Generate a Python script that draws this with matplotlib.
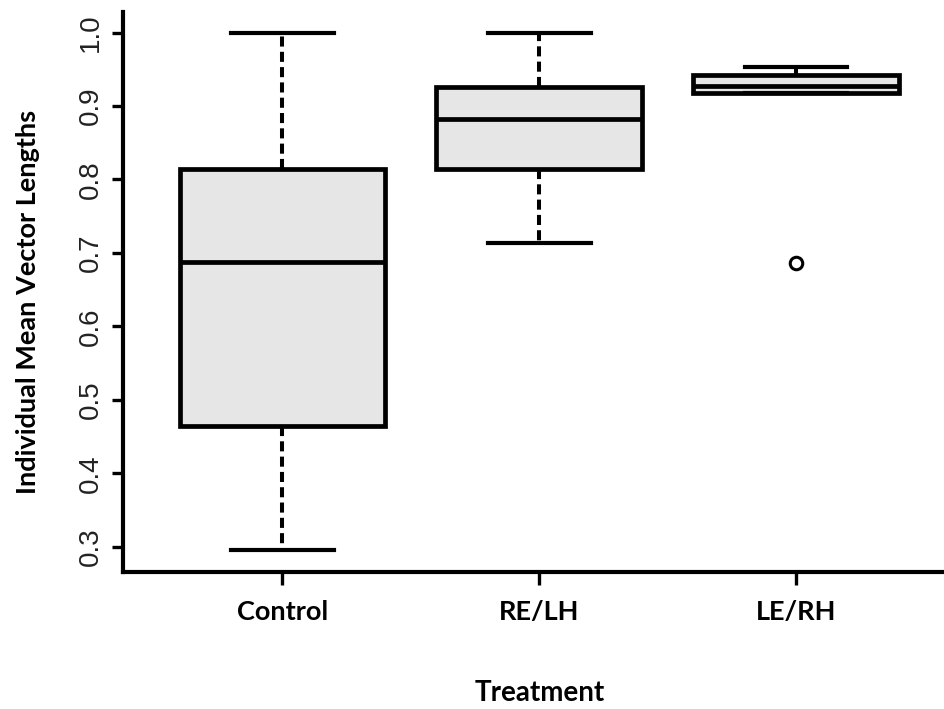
import matplotlib
matplotlib.use("Agg")
import matplotlib.pyplot as plt

# Box statistics
groups   = ["Control", "RE/LH", "LE/RH"]
whislo   = [0.295, 0.714, 0.918]
q1       = [0.465, 0.814, 0.918]
medians  = [0.688, 0.882, 0.927]
q3       = [0.814, 0.926, 0.942]
whishi   = [1.000, 1.000, 0.953]
outliers = [[], [], [0.686]]

yticks = [0.3, 0.4, 0.5, 0.6, 0.7, 0.8, 0.9, 1.0]

stats = []
for i, g in enumerate(groups):
    stats.append({"label": g, "whislo": whislo[i], "q1": q1[i], "med": medians[i],
                  "q3": q3[i], "whishi": whishi[i], "fliers": outliers[i]})

fig = plt.figure(figsize=(9.45, 7.09), dpi=100)
ax = fig.add_axes([0.1302, 0.1932, 0.8698, 0.7899])

ax.bxp(stats, positions=[1, 2, 3], widths=0.8, patch_artist=True,
       boxprops=dict(facecolor="#e6e6e6", edgecolor="black", linewidth=3.4),
       medianprops=dict(color="black", linewidth=3.4),
       whiskerprops=dict(color="black", linewidth=2.9, linestyle=(0, (2.5, 1.3))),
       capprops=dict(color="black", linewidth=3.0),
       flierprops=dict(marker="o", markersize=9, markerfacecolor="white",
                       markeredgecolor="black", markeredgewidth=2.2),
       capwidths=0.4)

ax.set_xlim(0.38, 3.58)
ax.set_ylim(0.2656, 1.028)

for s in ["top", "right"]:
    ax.spines[s].set_visible(False)
for s in ["left", "bottom"]:
    ax.spines[s].set_linewidth(3.0)

ax.set_yticks(yticks)
ax.set_yticklabels([f"{v:.1f}" for v in yticks], rotation=90, va="center",
                   fontsize=20, family="Liberation Sans", color="#222222")
ax.tick_params(axis="y", length=8, width=2.4, pad=6)
ax.tick_params(axis="x", length=9, width=2.4, pad=11)
ax.set_xticks([1, 2, 3])
ax.set_xticklabels(groups, fontsize=19.5, fontweight="bold", family="Lato")

fig.text(28 / 945, 1 - 302 / 709, "Individual Mean Vector Lengths", rotation=90,
         ha="center", va="center", fontsize=19.5, fontweight="bold", family="Lato")
fig.text(540 / 945, 1 - 693 / 709, "Treatment", ha="center", va="center",
         fontsize=20, fontweight="bold", family="Lato")

fig.savefig("out.png", dpi=100)
